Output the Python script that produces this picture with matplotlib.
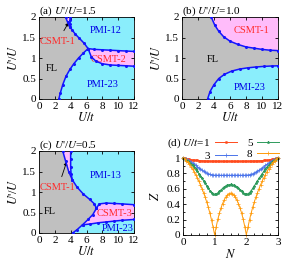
import matplotlib
matplotlib.use("Agg")
import matplotlib.pyplot as plt
from matplotlib.ticker import MultipleLocator

plt.rcParams["font.family"] = ["Liberation Serif", "DejaVu Serif"]
plt.rcParams["mathtext.fontset"] = "stix"
plt.rcParams["font.size"] = 8

GRAY = "#c0c0c0"
CYAN = "#8aeefc"
PINK = "#ffbcfa"
LINE_BLUE = "#1414ff"
TXT_RED = "#ff2a2a"
TXT_BLUE = "#0000e6"

# ---- panel (a), U'/U = 1.5 ----
A_FL_LOW_U = [2.5, 2.7, 3.0, 3.4, 3.9, 4.4, 5.0, 5.6, 6.2]
A_FL_LOW_V = [0.0, 0.15, 0.35, 0.55, 0.72, 0.86, 1.0, 1.12, 1.23]
A_FL_UP_U = [6.2, 5.7, 5.1, 4.6, 4.2, 3.9, 3.6, 3.35]
A_FL_UP_V = [1.23, 1.36, 1.48, 1.58, 1.68, 1.76, 1.88, 2.0]
A_INNER_U = [3.9, 3.92, 3.95, 3.97]
A_INNER_V = [1.76, 1.84, 1.92, 2.0]
A_WEDGE_UP_U = [6.2, 7.0, 8.0, 9.0, 10.0, 11.0, 12.0]
A_WEDGE_UP_V = [1.23, 1.21, 1.2, 1.19, 1.18, 1.17, 1.16]
A_WEDGE_LOW_U = [6.2, 6.6, 7.2, 8.0, 9.0, 10.0, 11.0, 12.0]
A_WEDGE_LOW_V = [1.23, 1.03, 0.92, 0.86, 0.83, 0.82, 0.81, 0.8]

# ---- panel (b), U'/U = 1.0 ----
B_UP_U = [3.65, 4.1, 4.6, 5.2, 6.0, 7.0, 8.0, 9.0, 10.0, 11.0, 12.0]
B_UP_V = [2.0, 1.8, 1.65, 1.52, 1.41, 1.33, 1.27, 1.24, 1.21, 1.19, 1.18]
B_LOW_U = [3.2, 3.5, 4.0, 4.6, 5.3, 6.2, 7.2, 8.2, 9.2, 10.2, 11.2, 12.0]
B_LOW_V = [0.0, 0.18, 0.35, 0.5, 0.6, 0.68, 0.73, 0.76, 0.78, 0.795, 0.805, 0.81]

# ---- panel (c), U'/U = 0.5 ----
C_FL_LOW_U = [4.25, 4.8, 5.5, 6.2, 6.8, 7.25]
C_FL_LOW_V = [0.0, 0.08, 0.2, 0.33, 0.45, 0.6]
C_FL_UP_U = [7.25, 7.0, 6.4, 5.6, 4.8, 4.2, 3.75, 3.35, 3.0]
C_FL_UP_V = [0.6, 0.71, 0.82, 0.95, 1.12, 1.3, 1.5, 1.76, 2.0]
C_INNER_U = [4.2, 4.05, 4.0, 4.0, 4.0]
C_INNER_V = [1.3, 1.45, 1.6, 1.8, 2.0]
C_WEDGE_UP_U = [7.25, 7.6, 8.5, 9.5, 10.5, 12.0]
C_WEDGE_UP_V = [0.6, 0.71, 0.73, 0.72, 0.71, 0.69]
C_WEDGE_LOW_U = [5.5, 6.5, 7.5, 8.5, 9.5, 10.5, 12.0]
C_WEDGE_LOW_V = [0.2, 0.22, 0.25, 0.27, 0.29, 0.31, 0.33]

# ---- panel (d), Z vs N ----
N_FILL = [0.00, 0.05, 0.10, 0.15, 0.20, 0.25, 0.30, 0.35, 0.40, 0.45,
          0.50, 0.55, 0.60, 0.65, 0.70, 0.75, 0.80, 0.85, 0.90, 0.95,
          1.00, 1.05, 1.10, 1.15, 1.20, 1.25, 1.30, 1.35, 1.40, 1.45,
          1.50, 1.55, 1.60, 1.65, 1.70, 1.75, 1.80, 1.85, 1.90, 1.95,
          2.00, 2.05, 2.10, 2.15, 2.20, 2.25, 2.30, 2.35, 2.40, 2.45,
          2.50, 2.55, 2.60, 2.65, 2.70, 2.75, 2.80, 2.85, 2.90, 2.95, 3.00]
Z_U1 = [1.000, 0.996, 0.991, 0.986, 0.982, 0.978, 0.975, 0.972, 0.970, 0.968,
        0.966, 0.965, 0.964, 0.963, 0.962, 0.961, 0.960, 0.960, 0.959, 0.959,
        0.959, 0.958, 0.958, 0.958, 0.957, 0.957, 0.957, 0.957, 0.957, 0.957,
        0.957, 0.957, 0.957, 0.957, 0.957, 0.957, 0.957, 0.958, 0.958, 0.958,
        0.959, 0.959, 0.959, 0.960, 0.960, 0.961, 0.962, 0.963, 0.964, 0.965,
        0.966, 0.968, 0.970, 0.972, 0.975, 0.978, 0.982, 0.986, 0.991, 0.996, 1.000]
Z_U3 = [1.000, 0.992, 0.983, 0.972, 0.960, 0.947, 0.933, 0.918, 0.903, 0.888,
        0.872, 0.857, 0.842, 0.828, 0.815, 0.803, 0.794, 0.787, 0.782, 0.779,
        0.777, 0.776, 0.776, 0.776, 0.776, 0.776, 0.776, 0.776, 0.776, 0.776,
        0.776, 0.776, 0.776, 0.776, 0.776, 0.776, 0.776, 0.776, 0.776, 0.776,
        0.777, 0.779, 0.782, 0.787, 0.794, 0.803, 0.815, 0.828, 0.842, 0.857,
        0.872, 0.888, 0.903, 0.918, 0.933, 0.947, 0.960, 0.972, 0.983, 0.992, 1.000]
Z_U5 = [1.000, 0.990, 0.978, 0.963, 0.946, 0.926, 0.904, 0.880, 0.854, 0.826,
        0.797, 0.767, 0.735, 0.703, 0.670, 0.637, 0.605, 0.575, 0.551, 0.535,
        0.530, 0.535, 0.548, 0.566, 0.586, 0.606, 0.624, 0.638, 0.648, 0.654,
        0.656, 0.654, 0.648, 0.638, 0.624, 0.606, 0.586, 0.566, 0.548, 0.535,
        0.530, 0.535, 0.551, 0.575, 0.605, 0.637, 0.670, 0.703, 0.735, 0.767,
        0.797, 0.826, 0.854, 0.880, 0.904, 0.926, 0.946, 0.963, 0.978, 0.990, 1.000]
Z_U8 = [1.000, 0.985, 0.966, 0.944, 0.918, 0.889, 0.857, 0.822, 0.784, 0.743,
        0.699, 0.652, 0.602, 0.548, 0.490, 0.427, 0.358, 0.282, 0.196, 0.101,
        0.000, 0.110, 0.205, 0.285, 0.352, 0.408, 0.455, 0.492, 0.520, 0.538,
        0.544, 0.538, 0.520, 0.492, 0.455, 0.408, 0.352, 0.285, 0.205, 0.110,
        0.000, 0.101, 0.196, 0.282, 0.358, 0.427, 0.490, 0.548, 0.602, 0.652,
        0.699, 0.743, 0.784, 0.822, 0.857, 0.889, 0.918, 0.944, 0.966, 0.985, 1.000]

Z_SERIES = [
    ("(d) $U/t$=1", Z_U1, "#ff4a1c", "s", 1.2),
    ("3", Z_U3, "#4b74ea", "+", 2.2),
    ("5", Z_U5, "#2e9a5c", "*", 1.8),
    ("8", Z_U8, "#ff9a0a", "+", 2.2),
]

PRIME_LABEL = "$U$'/$U$"


def below(us, vs, vmin):
    pts = [(u, v) for u, v in zip(us, vs) if v >= vmin - 1e-9]
    return [p[0] for p in pts], [p[1] for p in pts]


def boundary(ax, us, vs):
    ax.plot(us, vs, color=LINE_BLUE, lw=1.1, marker="o", ms=1.2, zorder=4)


def region_text(ax, u, v, s, color):
    ax.text(u, v, s, color=color, ha="center", va="center", fontsize=7.5)


def style_phase(ax, title):
    ax.set_xlim(0, 12)
    ax.set_ylim(0, 2)
    ax.xaxis.set_major_locator(MultipleLocator(2))
    ax.yaxis.set_major_locator(MultipleLocator(0.5))
    ax.yaxis.set_major_formatter(plt.FuncFormatter(lambda v, p: f"{v:g}"))
    ax.tick_params(direction="in", top=True, right=True, length=2.5, width=0.6,
                   pad=2, labelsize=8)
    ax.set_xlabel("$U/t$", labelpad=0, fontsize=9)
    ax.set_ylabel(PRIME_LABEL, labelpad=2, fontsize=9)
    ax.set_title(title, loc="left", pad=2, fontsize=8)
    for s in ax.spines.values():
        s.set_linewidth(0.6)


def csmt1_arrow(ax, target, text_pos):
    ax.annotate("CSMT-1", xy=target, xytext=text_pos, color=TXT_RED, fontsize=7.5,
                ha="center", va="center",
                arrowprops=dict(arrowstyle="-|>", color="black", lw=0.6,
                                mutation_scale=5, shrinkA=3, shrinkB=0))


fig = plt.figure(figsize=(2.88, 2.69), dpi=100)
W, H = 288.0, 269.0


def add_axes(left, top, right, bottom):
    return fig.add_axes([left / W, 1 - bottom / H, (right - left) / W, (bottom - top) / H])


# ---------- (a)
ax = add_axes(39, 17, 134, 99)
ax.set_facecolor(CYAN)
ax.fill([0] + A_FL_LOW_U + A_FL_UP_U + [0], [0] + A_FL_LOW_V + A_FL_UP_V + [2],
        color=GRAY, lw=0)
ou, ov = below(A_FL_UP_U, A_FL_UP_V, A_INNER_V[0])
ax.fill(ou + A_INNER_U[::-1], ov + A_INNER_V[::-1], color=PINK, lw=0)
ax.fill(A_WEDGE_UP_U + A_WEDGE_LOW_U[::-1], A_WEDGE_UP_V + A_WEDGE_LOW_V[::-1],
        color=PINK, lw=0)
boundary(ax, A_FL_LOW_U + A_FL_UP_U, A_FL_LOW_V + A_FL_UP_V)
boundary(ax, A_INNER_U, A_INNER_V)
boundary(ax, A_WEDGE_UP_U, A_WEDGE_UP_V)
boundary(ax, A_WEDGE_LOW_U, A_WEDGE_LOW_V)
region_text(ax, 8.4, 1.66, "PMI-12", TXT_BLUE)
region_text(ax, 8.8, 0.97, "CSMT-2", TXT_RED)
region_text(ax, 8.1, 0.35, "PMI-23", TXT_BLUE)
region_text(ax, 1.6, 0.75, "FL", "black")
csmt1_arrow(ax, (3.75, 1.87), (2.35, 1.4))
style_phase(ax, "(a) " + PRIME_LABEL + "=1.5")

# ---------- (b)
ax = add_axes(182, 17, 278, 99)
ax.set_facecolor(GRAY)
ax.fill(B_UP_U + [12], B_UP_V + [2], color=PINK, lw=0)
ax.fill(B_LOW_U + [12], B_LOW_V + [0], color=CYAN, lw=0)
boundary(ax, B_UP_U, B_UP_V)
boundary(ax, B_LOW_U, B_LOW_V)
region_text(ax, 8.75, 1.68, "CSMT-1", TXT_RED)
region_text(ax, 3.9, 0.97, "FL", "black")
region_text(ax, 8.5, 0.28, "PMI-23", TXT_BLUE)
style_phase(ax, "(b) " + PRIME_LABEL + "=1.0")

# ---------- (c)
ax = add_axes(39, 151, 134, 233)
ax.set_facecolor(CYAN)
ax.fill([0] + C_FL_LOW_U + C_FL_UP_U + [0], [0] + C_FL_LOW_V + C_FL_UP_V + [2],
        color=GRAY, lw=0)
ou, ov = below(C_FL_UP_U, C_FL_UP_V, C_INNER_V[0])
ax.fill(ou + C_INNER_U[::-1], ov + C_INNER_V[::-1], color=PINK, lw=0)
lu, lv = below(C_FL_LOW_U, C_FL_LOW_V, C_WEDGE_LOW_V[0])
ax.fill(C_WEDGE_LOW_U + C_WEDGE_UP_U[::-1] + lu[::-1][1:],
        C_WEDGE_LOW_V + C_WEDGE_UP_V[::-1] + lv[::-1][1:], color=PINK, lw=0)
boundary(ax, C_FL_LOW_U + C_FL_UP_U, C_FL_LOW_V + C_FL_UP_V)
boundary(ax, C_INNER_U, C_INNER_V)
boundary(ax, C_WEDGE_UP_U, C_WEDGE_UP_V)
boundary(ax, C_WEDGE_LOW_U, C_WEDGE_LOW_V)
region_text(ax, 8.4, 1.4, "PMI-13", TXT_BLUE)
region_text(ax, 9.6, 0.47, "CSMT-3", TXT_RED)
region_text(ax, 10.0, 0.1, "PMI-23", TXT_BLUE)
region_text(ax, 1.4, 0.52, "FL", "black")
csmt1_arrow(ax, (3.5, 1.74), (2.4, 1.1))
style_phase(ax, "(c) " + PRIME_LABEL + "=0.5")

# ---------- (d)
ax = add_axes(183, 158, 278, 235)
handles = []
for label, z, color, marker, ms in Z_SERIES:
    (h,) = ax.plot(N_FILL, z, color=color, lw=0.7, marker=marker, ms=ms,
                   mew=0.5, label=label, clip_on=False)
    handles.append(h)
ax.set_xlim(0, 3)
ax.set_ylim(0, 1.0)
ax.xaxis.set_major_locator(MultipleLocator(1))
ax.xaxis.set_minor_locator(MultipleLocator(0.25))
ax.yaxis.set_major_locator(MultipleLocator(0.2))
ax.yaxis.set_minor_locator(MultipleLocator(0.1))
ax.yaxis.set_major_formatter(plt.FuncFormatter(lambda v, p: f"{v:g}"))
ax.tick_params(which="both", direction="in", top=False, right=True, width=0.6, pad=2,
               labelsize=8)
ax.tick_params(which="major", length=2.5)
ax.tick_params(which="minor", length=1.5)
ax.spines["top"].set_visible(False)
for s in ax.spines.values():
    s.set_linewidth(0.6)
ax.set_xlabel("$N$", labelpad=1, fontsize=9)
ax.set_ylabel("$Z$", labelpad=3, fontsize=9)
fig.legend(handles=handles, loc="upper right", bbox_to_anchor=(279 / W, 1 - 137 / H),
           ncol=2, markerfirst=False, frameon=False, fontsize=8, handlelength=2.0,
           handletextpad=0.4, columnspacing=0.9, labelspacing=0.05, borderpad=0,
           borderaxespad=0)

fig.savefig("out.png", dpi=100)
